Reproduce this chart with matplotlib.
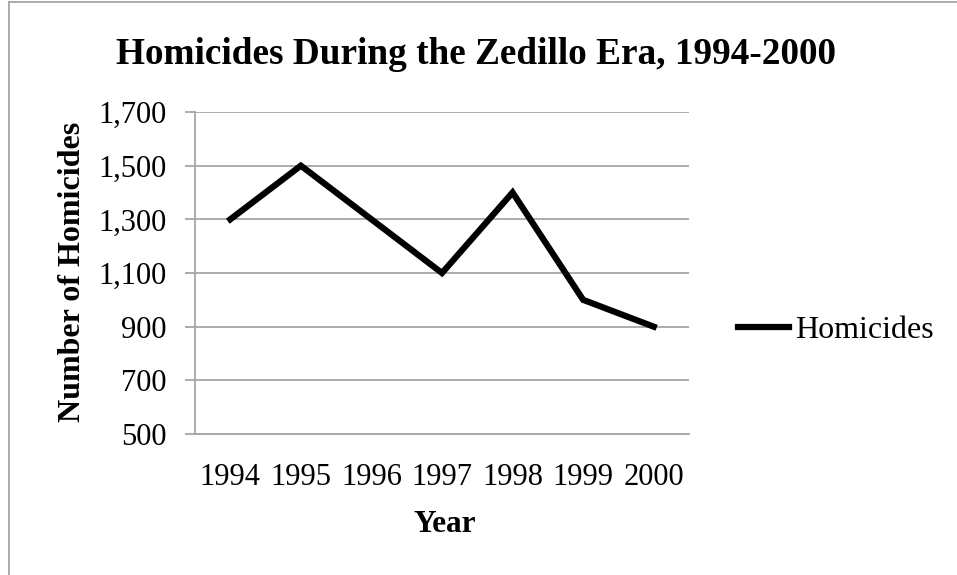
import matplotlib
matplotlib.use("Agg")
import matplotlib.pyplot as plt
from matplotlib.lines import Line2D

years = ["1994", "1995", "1996", "1997", "1998", "1999", "2000"]
homicides = [1300, 1500, 1300, 1100, 1400, 1000, 900]
yticks = [500, 700, 900, 1100, 1300, 1500, 1700]
ytick_labels = ["500", "700", "900", "1,100", "1,300", "1,500", "1,700"]

plt.rcParams['font.family'] = ['Liberation Serif', 'DejaVu Serif']
W, H = 957, 575
fig = plt.figure(figsize=(W / 100, H / 100), dpi=100)
ax = fig.add_axes([195 / W, 1 - 434 / H, (689 - 195) / W, (434 - 112) / H])

x = list(range(len(years)))
line, = ax.plot(x, homicides, color='black', linewidth=4.5, solid_joinstyle='miter',
                label='Homicides')
ax.set_xlim(-0.5, len(years) - 0.5)
ax.set_ylim(500, 1700)
ax.set_yticks(yticks)
ax.set_yticklabels(ytick_labels)
ax.set_xticks(x)
ax.set_xticklabels(years)

grid_col = '#A6A6A6'
ax.yaxis.grid(True, color=grid_col, linewidth=1.3)
ax.set_axisbelow(True)
for s in ['top', 'right']:
    ax.spines[s].set_visible(False)
for s in ['left', 'bottom']:
    ax.spines[s].set_color(grid_col)
    ax.spines[s].set_linewidth(1.3)
ax.tick_params(axis='y', direction='out', length=7.2, width=1.3, color=grid_col,
               labelsize=22, pad=13)
ax.tick_params(axis='x', length=0, labelsize=22, pad=21)

fig.text(476 / W, 1 - 54 / H, "Homicides During the Zedillo Era, 1994-2000",
         ha='center', va='center', fontsize=26.8, fontweight='bold')
fig.text(73 / W, 1 - 272 / H, "Number of Homicides", rotation=90,
         ha='center', va='center', fontsize=23, fontweight='bold')
fig.text(445 / W, 1 - 525 / H, "Year", ha='center', va='center',
         fontsize=22.5, fontweight='bold')

ax.legend(handles=[line], loc='center left', bbox_to_anchor=(738 / W, 1 - 330 / H),
          bbox_transform=fig.transFigure, frameon=False, fontsize=23,
          handlelength=1.6, handletextpad=0.2, borderpad=0, borderaxespad=0)

fig.add_artist(Line2D([9 / W, 9 / W], [0, 1 - 2 / H], transform=fig.transFigure,
                      color=grid_col, linewidth=1.3))
fig.add_artist(Line2D([9 / W, 1], [1 - 2 / H, 1 - 2 / H], transform=fig.transFigure,
                      color=grid_col, linewidth=1.3))

fig.savefig("out.png", dpi=100)
